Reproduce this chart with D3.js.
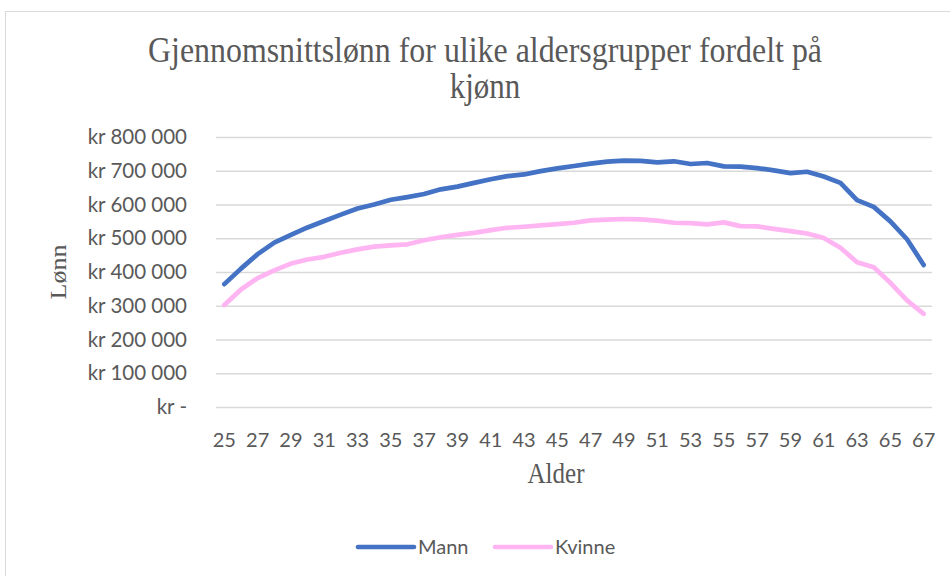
<!DOCTYPE html>
<html>
<head>
<meta charset="utf-8">
<script src="https://cdn.jsdelivr.net/npm/d3@7"></script>
<style>
  body { margin: 0; background: #fff; }
  .tick text { fill: #595959; }
</style>
</head>
<body>
<div id="chart"></div>
<script>
// data
var ages = [25,26,27,28,29,30,31,32,33,34,35,36,37,38,39,40,41,42,43,44,45,46,
  47,48,49,50,51,52,53,54,55,56,57,58,59,60,61,62,63,64,65,66,67];
var mann = [364000,410000,453000,487000,510000,532000,551000,570000,588000,600000,
  614000,622000,631000,645000,653000,664000,675000,684000,689000,699000,707000,
  714000,721000,727000,730000,729000,725000,728000,720000,723000,713000,712000,
  708000,701000,693000,697000,683000,664000,613000,593000,550000,497000,421000];
var kvinne = [302000,348000,382000,405000,425000,437000,445000,457000,467000,
  475000,479000,482000,494000,503000,510000,516000,524000,531000,534000,538000,
  542000,546000,553000,555000,557000,556000,552000,546000,545000,541000,547000,
  536000,535000,528000,521000,514000,501000,472000,429000,414000,368000,316000,276000];
var yTicks = [0,100000,200000,300000,400000,500000,600000,700000,800000];
var series = [
  { name: "Mann", values: mann, color: "#4472c4" },
  { name: "Kvinne", values: kvinne, color: "#ffb5f2" }
];

var width = 950, height = 576;
var plot = { left: 216, top: 137, right: 932, bottom: 407 };
var serif = "'Liberation Serif', 'Times New Roman', serif";
var sans = "Lato, sans-serif";

var svg = d3.select("#chart").append("svg")
  .attr("width", width).attr("height", height);

// outer chart frame
svg.append("rect")
  .attr("x", 5.5).attr("y", 11.5)
  .attr("width", 960).attr("height", 600)
  .attr("fill", "#fff").attr("stroke", "#d9d9d9");

var x = d3.scaleBand().domain(ages).range([plot.left, plot.right]);
var y = d3.scaleLinear().domain([0, 800000]).range([plot.bottom, plot.top]);

function krFormat(v) {
  if (v === 0) return "kr -";
  return "kr " + d3.format(",")(v).replace(/,/g, " ");
}

// gridlines + y labels
var yAxis = svg.append("g")
  .attr("transform", "translate(" + plot.left + ",0)")
  .call(d3.axisLeft(y).tickValues(yTicks).tickSize(-(plot.right - plot.left))
    .tickPadding(29).tickFormat(krFormat));
yAxis.select(".domain").remove();
yAxis.selectAll(".tick line").attr("stroke", "#d9d9d9").attr("stroke-width", 1.5);
yAxis.selectAll(".tick text")
  .style("font-family", sans).style("font-size", "20.5px");

// x labels, every other age
var xAxis = svg.append("g")
  .attr("transform", "translate(0," + plot.bottom + ")")
  .call(d3.axisBottom(x).tickValues(ages.filter(function (d) { return d % 2 === 1; }))
    .tickSize(0).tickPadding(26));
xAxis.select(".domain").remove();
xAxis.selectAll(".tick text")
  .style("font-family", sans).style("font-size", "20px");

// lines
var line = d3.line()
  .x(function (d, i) { return x(ages[i]) + x.bandwidth() / 2; })
  .y(function (d) { return y(d); });

svg.selectAll(".series").data(series).enter().append("path")
  .attr("class", "series")
  .attr("d", function (d) { return line(d.values); })
  .attr("fill", "none")
  .attr("stroke", function (d) { return d.color; })
  .attr("stroke-width", 4.7)
  .attr("stroke-linecap", "round")
  .attr("stroke-linejoin", "round");

// title (glyphs in the original look a bit tall, so stretch vertically)
var title = svg.append("text")
  .attr("transform", "translate(485,62) scale(1,1.15)")
  .attr("text-anchor", "middle")
  .style("font-family", serif)
  .style("font-size", "31px")
  .attr("fill", "#595959");
title.append("tspan").attr("x", 0)
  .attr("textLength", 674).attr("lengthAdjust", "spacingAndGlyphs")
  .text("Gjennomsnittslønn for ulike aldersgrupper fordelt på");
title.append("tspan").attr("x", 0).attr("dy", 31).text("kjønn");

// axis titles
svg.append("text")
  .attr("transform", "translate(66,272) rotate(-90) scale(1,0.9)")
  .attr("text-anchor", "middle")
  .style("font-family", serif).style("font-size", "26px")
  .attr("fill", "#595959").text("Lønn");

svg.append("text")
  .attr("transform", "translate(556,483) scale(1,1.15)")
  .attr("text-anchor", "middle")
  .style("font-family", serif).style("font-size", "25px")
  .attr("fill", "#595959").text("Alder");

// legend
var legend = svg.selectAll(".legend").data(series).enter().append("g")
  .attr("class", "legend")
  .attr("transform", function (d, i) { return "translate(" + (358 + i * 137) + ",547)"; });
legend.append("line")
  .attr("x1", 0).attr("x2", 56)
  .attr("stroke", function (d) { return d.color; })
  .attr("stroke-width", 4.7).attr("stroke-linecap", "round");
legend.append("text")
  .attr("x", 60).attr("y", 7)
  .style("font-family", sans).style("font-size", "20px")
  .attr("fill", "#595959")
  .text(function (d) { return d.name; });
</script>
</body>
</html>
